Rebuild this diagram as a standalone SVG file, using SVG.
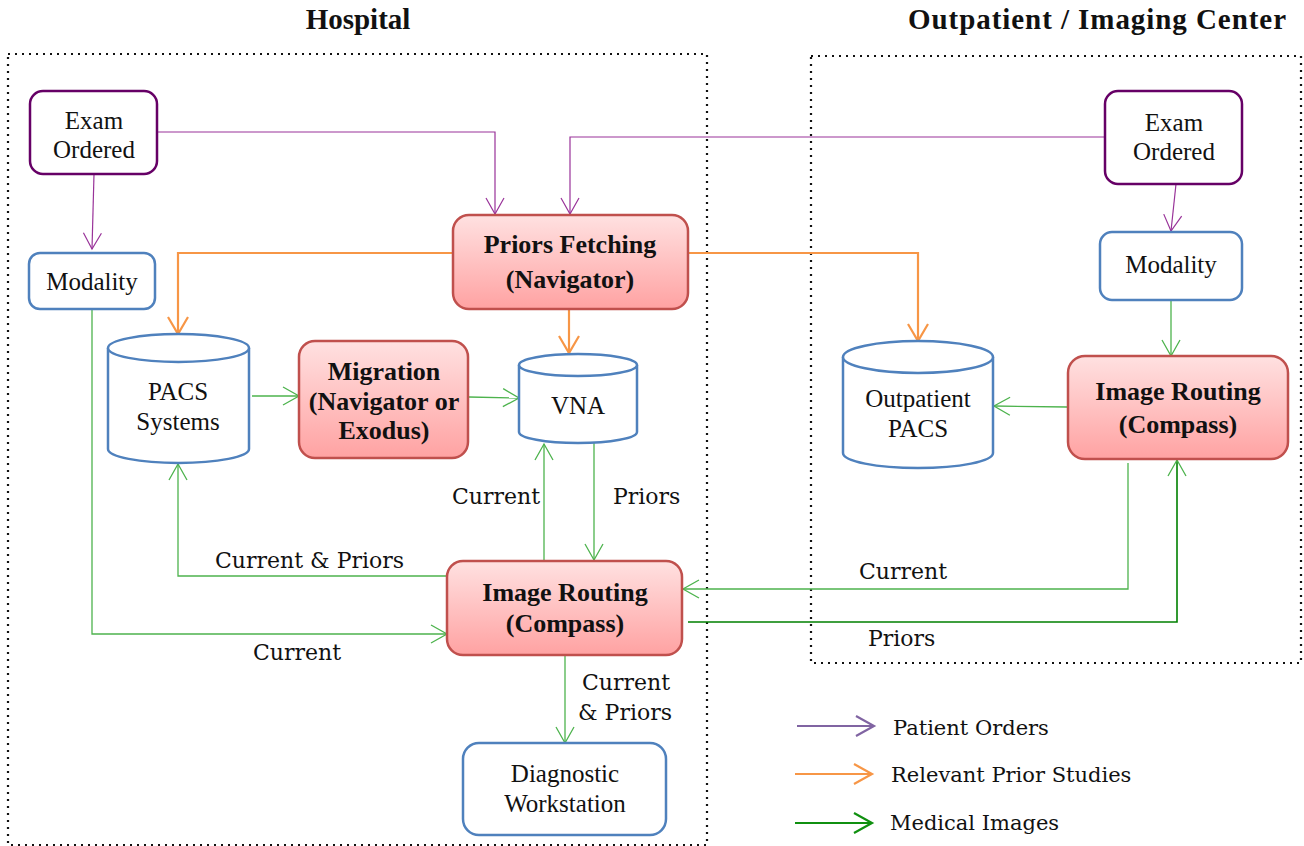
<svg xmlns="http://www.w3.org/2000/svg" width="1304" height="846" viewBox="0 0 1304 846">
<style>
.title{font-family:"Liberation Serif",serif;font-weight:bold;font-size:29px;fill:#111;text-anchor:middle}
.nt{font-family:"Liberation Serif",serif;font-size:25px;fill:#111;text-anchor:middle}
.bt{font-family:"Liberation Serif",serif;font-weight:bold;font-size:26px;fill:#111;text-anchor:middle}
.lbl{font-family:"DejaVu Serif",serif;font-size:22px;fill:#111}
.lg{font-family:"DejaVu Serif",serif;font-size:21px;fill:#111}
.zone{fill:none;stroke:#111;stroke-width:2.2;stroke-dasharray:2 5}
.purpleBox{fill:#fff;stroke:#660066;stroke-width:2.5}
.blueBox{fill:#fff;stroke:#4F81BD;stroke-width:2.5}
.redBox{fill:url(#redGrad);stroke:#C0504D;stroke-width:2.5}
.cyl{fill:#fff;stroke:#4F81BD;stroke-width:2.5}
.p{fill:none;stroke:#993399;stroke-width:1.2;marker-end:url(#aP)}
.o{fill:none;stroke:#F79646;stroke-width:2.2;marker-end:url(#aO)}
.g{fill:none;stroke:#4DB34D;stroke-width:1.3;marker-end:url(#aG)}
.gd{fill:none;stroke:#008000;stroke-width:1.6;marker-end:url(#aG)}
</style>
<defs>
<linearGradient id="redGrad" x1="0" y1="0" x2="0" y2="1">
<stop offset="0" stop-color="#FFE1E1"/>
<stop offset="1" stop-color="#FFA2A2"/>
</linearGradient>
<marker id="aP" markerUnits="userSpaceOnUse" markerWidth="20" markerHeight="22" refX="17" refY="10" orient="auto" overflow="visible">
<path d="M1,1 L17,10 L1,19" fill="none" stroke="#993399" stroke-width="1.2"/>
</marker>
<marker id="aO" markerUnits="userSpaceOnUse" markerWidth="20" markerHeight="22" refX="17" refY="10" orient="auto" overflow="visible">
<path d="M0,0 L17,10 L0,20" fill="none" stroke="#F79646" stroke-width="2.2"/>
</marker>
<marker id="aG" markerUnits="userSpaceOnUse" markerWidth="20" markerHeight="22" refX="17" refY="10" orient="auto" overflow="visible">
<path d="M1,1 L17,10 L1,19" fill="none" stroke="#4DB34D" stroke-width="1.3"/>
</marker>
<marker id="lP" markerUnits="userSpaceOnUse" markerWidth="20" markerHeight="24" refX="19" refY="11" orient="auto" overflow="visible">
<path d="M1,1 L19,11 L1,21" fill="none" stroke="#8064A2" stroke-width="2.2"/>
</marker>
<marker id="lO" markerUnits="userSpaceOnUse" markerWidth="20" markerHeight="24" refX="19" refY="11" orient="auto" overflow="visible">
<path d="M1,1 L19,11 L1,21" fill="none" stroke="#F79646" stroke-width="2.2"/>
</marker>
<marker id="lG" markerUnits="userSpaceOnUse" markerWidth="20" markerHeight="24" refX="19" refY="11" orient="auto" overflow="visible">
<path d="M1,1 L19,11 L1,21" fill="none" stroke="#109010" stroke-width="2.2"/>
</marker>
</defs>

<g id="zones">
<text class="title" x="358" y="29">Hospital</text>
<text class="title" x="1097" y="29" textLength="378" lengthAdjust="spacing">Outpatient / Imaging Center</text>
<rect class="zone" x="8" y="54" width="699" height="791"/>
<rect class="zone" x="811" y="56" width="490" height="607"/>
</g>

<g id="connectors">
<path class="p" d="M94,174 L92,249"/>
<path class="p" d="M157,132 L495,132 L495,214"/>
<path class="p" d="M1105,137 L570,137 L570,214"/>
<path class="p" d="M1176,184 L1171,231"/>
<path class="o" d="M453,253 L178,253 L178,334"/>
<path class="o" d="M569,309 L569,353"/>
<path class="o" d="M688,253 L918,253 L918,341"/>
<path class="g" d="M92,309 L92,634 L447,634"/>
<path class="g" d="M252,396 L299,396"/>
<path class="g" d="M469,397 L519,398"/>
<path class="g" d="M447,576 L178,576 L178,464"/>
<path class="g" d="M544,560 L544,444"/>
<path class="g" d="M594,443 L594,560"/>
<path class="g" d="M565,655 L565,743"/>
<path class="g" d="M1128,463 L1128,589 L683,589"/>
<path class="gd" d="M688,622 L1177,622 L1177,460"/>
<path class="g" d="M1171,300 L1171,356"/>
<path class="g" d="M1067,407 L994,406"/>
<text class="lbl" x="215" y="568">Current &amp; Priors</text>
<text class="lbl" x="253" y="660">Current</text>
<text class="lbl" x="452" y="504">Current</text>
<text class="lbl" x="613" y="504">Priors</text>
<text class="lbl" x="582" y="690">Current</text>
<text class="lbl" x="578" y="720">&amp; Priors</text>
<text class="lbl" x="859" y="579">Current</text>
<text class="lbl" x="868" y="646">Priors</text>
</g>

<g id="exam-left">
<rect class="purpleBox" x="30" y="91" width="127" height="83" rx="13"/>
<text class="nt" x="94" y="129">Exam</text>
<text class="nt" x="94" y="158">Ordered</text>
</g>
<g id="modality-left">
<rect class="blueBox" x="29" y="253" width="126" height="56" rx="11"/>
<text class="nt" x="92" y="290">Modality</text>
</g>
<g id="priors-fetching">
<rect class="redBox" x="453" y="215" width="235" height="94" rx="16"/>
<text class="bt" x="570" y="253">Priors Fetching</text>
<text class="bt" x="570" y="288">(Navigator)</text>
</g>
<g id="pacs-systems">
<path class="cyl" d="M108,348 A70.5,14 0 0 1 249,348 L249,449 A70.5,14 0 0 1 108,449 Z"/>
<path class="cyl" d="M108,348 A70.5,14 0 0 0 249,348" fill="none"/>
<text class="nt" x="178" y="400">PACS</text>
<text class="nt" x="178" y="430">Systems</text>
</g>
<g id="migration">
<rect class="redBox" x="299" y="341" width="169" height="117" rx="16"/>
<text class="bt" x="384" y="380">Migration</text>
<text class="bt" x="384" y="410">(Navigator or</text>
<text class="bt" x="384" y="439">Exodus)</text>
</g>
<g id="vna">
<path class="cyl" d="M519,365 A59,11 0 0 1 637,365 L637,432 A59,11 0 0 1 519,432 Z"/>
<path class="cyl" d="M519,365 A59,11 0 0 0 637,365" fill="none"/>
<text class="nt" x="578" y="414">VNA</text>
</g>
<g id="image-routing-hospital">
<rect class="redBox" x="447" y="561" width="235" height="94" rx="16"/>
<text class="bt" x="565" y="601">Image Routing</text>
<text class="bt" x="565" y="632">(Compass)</text>
</g>
<g id="diagnostic-workstation">
<rect class="blueBox" x="463" y="743" width="203" height="92" rx="16"/>
<text class="nt" x="565" y="782">Diagnostic</text>
<text class="nt" x="565" y="812">Workstation</text>
</g>
<g id="exam-right">
<rect class="purpleBox" x="1105" y="91" width="137" height="93" rx="13"/>
<text class="nt" x="1174" y="131">Exam</text>
<text class="nt" x="1174" y="160">Ordered</text>
</g>
<g id="modality-right">
<rect class="blueBox" x="1100" y="232" width="142" height="68" rx="12"/>
<text class="nt" x="1171" y="273">Modality</text>
</g>
<g id="outpatient-pacs">
<path class="cyl" d="M843,357 A75,16 0 0 1 993,357 L993,453 A75,15 0 0 1 843,453 Z"/>
<path class="cyl" d="M843,357 A75,16 0 0 0 993,357" fill="none"/>
<text class="nt" x="918" y="407">Outpatient</text>
<text class="nt" x="918" y="437">PACS</text>
</g>
<g id="image-routing-outpatient">
<rect class="redBox" x="1068" y="356" width="220" height="103" rx="17"/>
<text class="bt" x="1178" y="400">Image Routing</text>
<text class="bt" x="1178" y="433">(Compass)</text>
</g>

<g id="legend">
<path d="M797,726 L874,726" fill="none" stroke="#8064A2" stroke-width="2.2" marker-end="url(#lP)"/>
<text class="lg" x="893" y="735">Patient Orders</text>
<path d="M795,774 L872,774" fill="none" stroke="#F79646" stroke-width="2.2" marker-end="url(#lO)"/>
<text class="lg" x="891" y="782">Relevant Prior Studies</text>
<path d="M795,823 L872,823" fill="none" stroke="#109010" stroke-width="2.2" marker-end="url(#lG)"/>
<text class="lg" x="890" y="830">Medical Images</text>
</g>
</svg>
